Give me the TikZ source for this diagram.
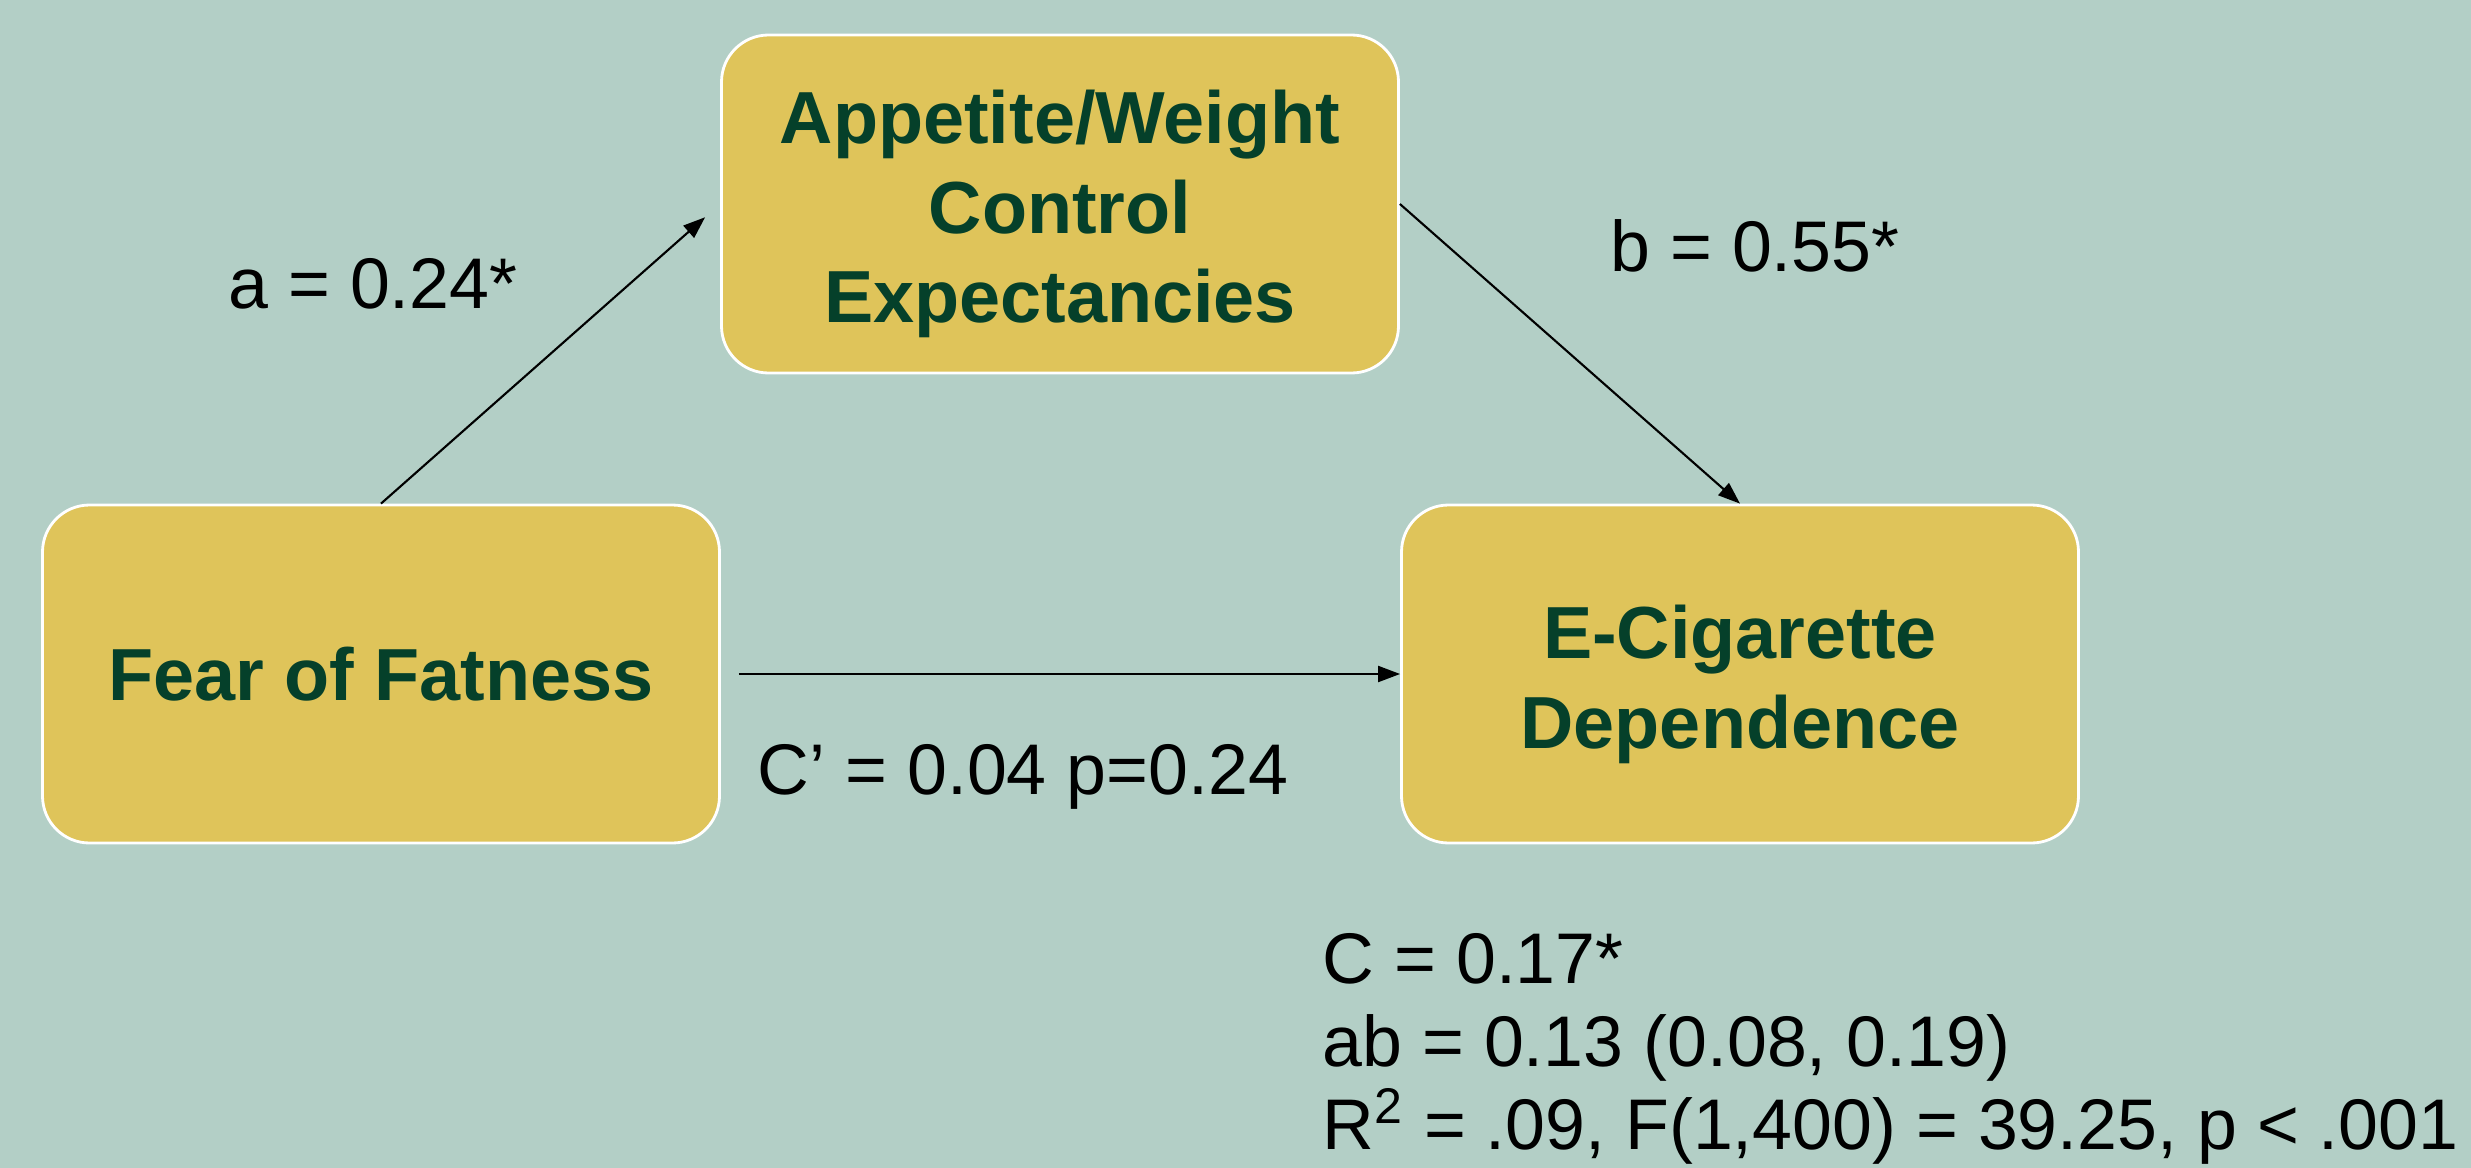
\documentclass[tikz,border=0pt]{standalone}
\usepackage{fontspec}
\setmainfont{Liberation Sans}
\usetikzlibrary{arrows.meta}
\definecolor{bgteal}{HTML}{B3CFC6}
\definecolor{boxgold}{HTML}{DFC45A}
\definecolor{darkgreen}{HTML}{05402A}
\newcommand{\toplift}{\rule{0pt}{21pt}}
\tikzset{
  var/.style={draw=white, line width=0.8pt, fill=boxgold, rounded corners=4.7mm,
    minimum width=67.7mm, minimum height=33.8mm, align=center, text=darkgreen,
    font=\fontsize{21}{25.5}\selectfont\bfseries},
  coef/.style={font=\fontsize{20.4}{23.6}\selectfont, inner sep=0pt}
}
\begin{document}
\begin{tikzpicture}[x=0.1mm, y=-0.1mm, >={Triangle[length=2.2mm,width=1.6mm]}]
\fill[bgteal] (0,0) rectangle (2471,1168);
\useasboundingbox (0,0) rectangle (2471,1168);

\node[var] (expect) at (1060,204) {\toplift Appetite/Weight\\Control\\Expectancies};
\node[var] (fear) at (381,674) {Fear of Fatness};
\node[var] (ecig) at (1740,674) {\toplift E-Cigarette\\Dependence};

\node[coef] (a) at (373,284) {a = 0.24*};
\node[coef] (b) at (1755,246) {b = 0.55*};
\node[coef] (cp) at (1023,777) {C’ = 0.04 p=0.24};
\node[coef, align=left, anchor=north west] (stats) at (1322,933)
  {C = 0.17*\\ab = 0.13 (0.08, 0.19)\\R\textsuperscript{2} = .09, F(1,400) = 39.25, p < .001};

% edges
\path[->, line width=0.6pt] (fear.north) edge [shorten >=2mm] (expect.west); % fear to expect
\path[->, line width=0.6pt] (expect.east) edge (ecig.north); % expect to ecig
\path[->, line width=0.6pt] (fear.east) edge [shorten <=1.8mm] (ecig.west); % fear to ecig
\end{tikzpicture}
\end{document}
